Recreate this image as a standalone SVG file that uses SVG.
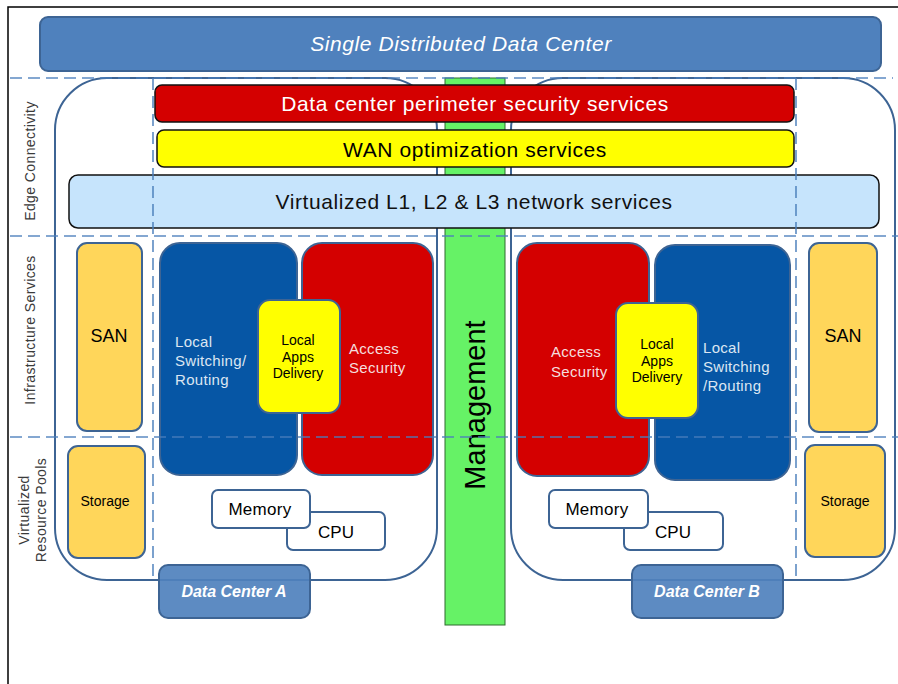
<svg xmlns="http://www.w3.org/2000/svg" width="898" height="684" viewBox="0 0 898 684">
<style>
text{font-family:"Liberation Sans",Arial,sans-serif;}
.dash{stroke:#4a7ebb;stroke-width:1.6;stroke-dasharray:12 6;fill:none;opacity:0.9;}
.dc{fill:none;stroke:#3d6494;stroke-width:2;}
.bar{stroke:#111;stroke-width:1.5;}
.bt{font-size:21px;letter-spacing:0.6px;}
.box{stroke:#3d6494;stroke-width:2;}
.sand{fill:#ffd65a;}
.blue{fill:#0656a5;}
.red{fill:#d40000;}
.yel{fill:#ffff00;}
.wt{fill:#ffffff;stroke:#3d6494;stroke-width:2;}
.lab{fill:#3a3a3a;font-size:14px;}
.lt{font-size:15px;letter-spacing:0.3px;}
.dcl{fill:#4f81bd;fill-opacity:0.92;stroke:#3d6494;stroke-width:2;}
.dct{fill:#fff;font-size:16px;font-style:italic;font-weight:bold;}
</style>
<rect x="0" y="0" width="898" height="684" fill="#ffffff"/>
<rect x="8" y="7" width="900" height="700" fill="none" stroke="#000" stroke-width="1.5"/>

<g id="banner">
<rect x="40" y="17" width="841" height="54" rx="8" fill="#4f81bd" stroke="#3d6494" stroke-width="2"/>
<text class="bt" x="461" y="51" text-anchor="middle" fill="#fff" font-style="italic" letter-spacing="0.8">Single Distributed Data Center</text>
</g>

<g id="dc-a-outline"><rect class="dc" x="55" y="78" width="382" height="502" rx="52"/></g>
<g id="dc-b-outline"><rect class="dc" x="511" y="78" width="384" height="502" rx="52"/></g>

<g id="management">
<rect x="445" y="78" width="60" height="547" fill="#66f266" stroke="#2f6b2f" stroke-width="1"/>
<text transform="translate(485,405) rotate(-90)" text-anchor="middle" fill="#000" font-size="29">Management</text>
</g>

<g id="perimeter-security">
<rect class="bar red" x="155" y="85" width="639" height="37" rx="7"/>
<text class="bt" x="475" y="111" text-anchor="middle" fill="#fff">Data center perimeter security services</text>
</g>
<g id="wan-optimization">
<rect class="bar yel" x="157" y="130" width="637" height="37" rx="7"/>
<text class="bt" x="475" y="157" text-anchor="middle" fill="#000">WAN optimization services</text>
</g>
<g id="network-services">
<rect class="bar" x="69" y="175" width="810" height="53" rx="9" fill="#c6e4fc"/>
<text class="bt" x="474" y="209" text-anchor="middle" fill="#111">Virtualized L1, L2 &amp; L3 network services</text>
</g>

<g id="labels">
<text class="lab" transform="translate(35,161) rotate(-90)" text-anchor="middle" letter-spacing="0.4">Edge Connectivity</text>
<text class="lab" transform="translate(35,330) rotate(-90)" text-anchor="middle" letter-spacing="0.4">Infrastructure Services</text>
<text class="lab" transform="translate(29,510) rotate(-90)" text-anchor="middle" letter-spacing="0.4">Virtualized</text>
<text class="lab" transform="translate(46,510) rotate(-90)" text-anchor="middle" letter-spacing="0.4">Resource Pools</text>
</g>

<g id="san-a">
<rect class="box sand" x="77" y="243" width="65" height="188" rx="10"/>
<text x="109" y="342" text-anchor="middle" font-size="18" fill="#000">SAN</text>
</g>
<g id="storage-a">
<rect class="box sand" x="68" y="446" width="77" height="112" rx="10"/>
<text x="105" y="506" text-anchor="middle" font-size="14" fill="#000">Storage</text>
</g>
<g id="switching-a">
<rect class="box blue" x="160" y="243" width="137" height="232" rx="20"/>
<text class="lt" fill="#dce6f2"><tspan x="175" y="347">Local</tspan><tspan x="175" y="366">Switching/</tspan><tspan x="175" y="385">Routing</tspan></text>
</g>
<g id="access-security-a">
<rect class="box red" x="302" y="243" width="131" height="232" rx="20"/>
<text class="lt" fill="#f4dede"><tspan x="349" y="354">Access</tspan><tspan x="349" y="373">Security</tspan></text>
</g>
<g id="apps-delivery-a">
<rect class="box yel" x="258" y="300" width="82" height="113" rx="12"/>
<text font-size="14" fill="#000" text-anchor="middle"><tspan x="298" y="345">Local</tspan><tspan x="298" y="362">Apps</tspan><tspan x="298" y="378">Delivery</tspan></text>
</g>
<g id="cpu-a">
<rect class="wt" x="287" y="512" width="98" height="38" rx="6"/>
<text x="336" y="538" text-anchor="middle" font-size="17" fill="#000">CPU</text>
</g>
<g id="memory-a">
<rect class="wt" x="212" y="490" width="98" height="38" rx="6"/>
<text x="260" y="515" text-anchor="middle" font-size="17" fill="#000" letter-spacing="0.3">Memory</text>
</g>
<g id="data-center-a">
<rect class="dcl" x="159" y="565" width="151" height="53" rx="9"/>
<text class="dct" x="234" y="597" text-anchor="middle">Data Center A</text>
</g>

<g id="access-security-b">
<rect class="box red" x="517" y="243" width="132" height="233" rx="20"/>
<text class="lt" fill="#f4dede"><tspan x="551" y="357">Access</tspan><tspan x="551" y="377">Security</tspan></text>
</g>
<g id="switching-b">
<rect class="box blue" x="655" y="245" width="135" height="235" rx="20"/>
<text class="lt" fill="#dce6f2"><tspan x="703" y="353">Local</tspan><tspan x="703" y="372">Switching</tspan><tspan x="703" y="391">/Routing</tspan></text>
</g>
<g id="apps-delivery-b">
<rect class="box yel" x="616" y="303" width="82" height="115" rx="12"/>
<text font-size="14" fill="#000" text-anchor="middle"><tspan x="657" y="349">Local</tspan><tspan x="657" y="366">Apps</tspan><tspan x="657" y="382">Delivery</tspan></text>
</g>
<g id="san-b">
<rect class="box sand" x="809" y="243" width="68" height="189" rx="10"/>
<text x="843" y="342" text-anchor="middle" font-size="18" fill="#000">SAN</text>
</g>
<g id="storage-b">
<rect class="box sand" x="805" y="445" width="80" height="112" rx="10"/>
<text x="845" y="506" text-anchor="middle" font-size="14" fill="#000">Storage</text>
</g>
<g id="cpu-b">
<rect class="wt" x="624" y="512" width="99" height="38" rx="6"/>
<text x="673" y="538" text-anchor="middle" font-size="17" fill="#000">CPU</text>
</g>
<g id="memory-b">
<rect class="wt" x="549" y="490" width="99" height="38" rx="6"/>
<text x="597" y="515" text-anchor="middle" font-size="17" fill="#000" letter-spacing="0.3">Memory</text>
</g>
<g id="data-center-b">
<rect class="dcl" x="632" y="565" width="151" height="53" rx="9"/>
<text class="dct" x="707" y="597" text-anchor="middle">Data Center B</text>
</g>

<g id="connectors">
<line class="dash" x1="10" y1="78" x2="893" y2="78"/>
<line class="dash" x1="10" y1="236" x2="898" y2="236"/>
<line class="dash" x1="10" y1="437" x2="898" y2="437"/>
<line class="dash" x1="153" y1="78" x2="153" y2="579"/>
<line class="dash" x1="796" y1="78" x2="796" y2="579"/>
</g>
</svg>
